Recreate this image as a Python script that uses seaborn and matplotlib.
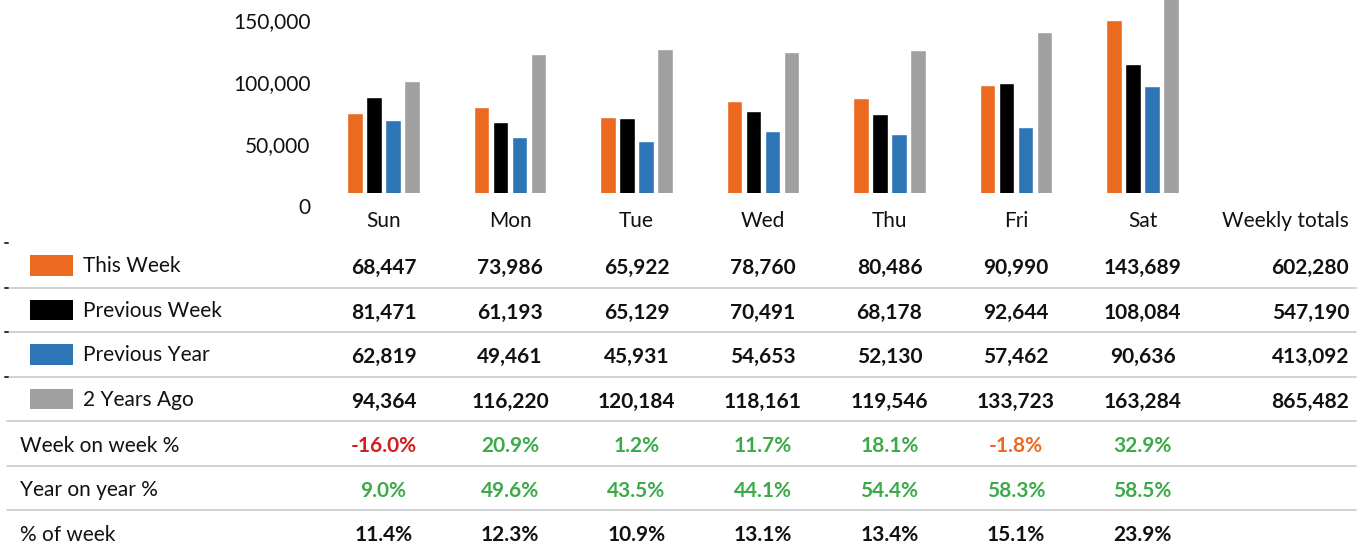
import numpy as np
import pandas as pd
import matplotlib
matplotlib.use("Agg")
import matplotlib.pyplot as plt
from matplotlib.patches import Rectangle
from matplotlib.transforms import blended_transform_factory
import seaborn as sns

# ---------------- data ----------------
days = ["Sun", "Mon", "Tue", "Wed", "Thu", "Fri", "Sat"]
series = ["This Week", "Previous Week", "Previous Year", "2 Years Ago"]
this_week = [68447, 73986, 65922, 78760, 80486, 90990, 143689]
previous_week = [81471, 61193, 65129, 70491, 68178, 92644, 108084]
previous_year = [62819, 49461, 45931, 54653, 52130, 57462, 90636]
two_years_ago = [94364, 116220, 120184, 118161, 119546, 133723, 163284]
weekly_totals = [602280, 547190, 413092, 865482]
week_on_week = [-16.0, 20.9, 1.2, 11.7, 18.1, -1.8, 32.9]
year_on_year = [9.0, 49.6, 43.5, 44.1, 54.4, 58.3, 58.5]
pct_of_week = [11.4, 12.3, 10.9, 13.1, 13.4, 15.1, 23.9]
y_ticks = [0, 50000, 100000, 150000]
totals_label = "Weekly totals"
row_labels = ["Week on week %", "Year on year %", "% of week"]

series_colors = ["#EC6A1F", "#000000", "#2E75B6", "#A0A0A0"]
GREEN = "#3DAA4A"
RED = "#D01F1F"
ORANGE = "#EC6A1F"

# ---------------- style ----------------
sns.set_theme(style="white")
plt.rcParams["font.family"] = ["Lato", "DejaVu Sans"]
FS = 15

W, H = 1361, 551
fig = plt.figure(figsize=(W / 100, H / 100), dpi=100)
fig.patch.set_facecolor("white")

# ---------------- bar chart ----------------
PX_PER_UNIT = 0.00124          # vertical scale of bars
ZERO_PX = 198.3                # pixel row of value 0
AX_LEFT = 320
STEP = 126.5                   # px between day groups
SUN_PX = 383.5
ax = fig.add_axes([AX_LEFT / W, 1 - ZERO_PX / H, (W - AX_LEFT) / W, ZERO_PX / H])

df = pd.DataFrame({
    "day": np.tile(days, len(series)),
    "series": np.repeat(series, len(days)),
    "value": this_week + previous_week + previous_year + two_years_ago,
})
sns.barplot(data=df, x="day", y="value", hue="series", order=days,
            hue_order=series, palette=series_colors, width=0.6, gap=0.2,
            saturation=1, errorbar=None, legend=False, ax=ax, zorder=2)

ax.set_ylim(0, ZERO_PX / PX_PER_UNIT)
ax.set_xlim(-(SUN_PX - AX_LEFT) / STEP, (W - SUN_PX) / STEP)
# hide the lowest slice of the bars (baseline sits slightly above zero)
ax.axhspan(0, 5.6 / PX_PER_UNIT, color="white", zorder=3, lw=0)

totals_x = (1349 - SUN_PX) / STEP
ax.set_xticks(list(range(len(days))) + [totals_x])
ax.set_xticklabels(days + [totals_label], fontsize=FS, color="#111111")
ax.get_xticklabels()[-1].set_ha("right")
ax.set_yticks(y_ticks)
ax.set_yticklabels([f"{v:,}" for v in y_ticks], fontsize=FS, color="#111111")
for lbl in ax.get_yticklabels():
    lbl.set_va("top")
ax.tick_params(axis="x", length=0, pad=9.5)
ax.tick_params(axis="y", length=0, pad=7)
ax.set_xlabel("")
ax.set_ylabel("")
for s in ax.spines.values():
    s.set_visible(False)
ax.set_facecolor("none")

# ---------------- table ----------------
TOP_PX = 240
ROW0 = 265.5
ROWH = 44.5
axt = fig.add_axes([0, 0, 1, (H - TOP_PX) / H])
axt.set_xlim(-SUN_PX / STEP, (W - SUN_PX) / STEP)
axt.set_ylim((H - ROW0) / ROWH, -(ROW0 - TOP_PX) / ROWH)
axt.axis("off")
bt = blended_transform_factory(axt.transAxes, axt.transData)

for r in range(6):
    axt.axhline(r + 0.5, xmin=7 / W, xmax=1356 / W, color="#CFCFCF", lw=1.3)
for r in range(-1, 3):
    axt.axhline(r + 0.5, xmin=5 / W, xmax=8 / W, color="#333333", lw=1.4)

series_values = [this_week, previous_week, previous_year, two_years_ago]
for r, (name, col, vals, tot) in enumerate(zip(series, series_colors,
                                               series_values, weekly_totals)):
    axt.add_patch(Rectangle((30 / W, r - 0.225), 43 / W, 0.45, transform=bt,
                            facecolor=col, edgecolor="none"))
    axt.text(83 / W, r + 0.02, name, transform=bt, fontsize=FS,
             va="center", ha="left", color="#111111")
    for i, v in enumerate(vals):
        axt.text(i, r + 0.06, f"{v:,}", fontsize=FS, fontweight="bold",
                 ha="center", va="center", color="#111111")
    axt.text(totals_x, r + 0.06, f"{tot:,}", fontsize=FS, fontweight="bold",
             ha="right", va="center", color="#111111")


def wow_color(v):
    if v < -5:
        return RED
    if v < 0:
        return ORANGE
    return GREEN


extra = [
    (week_on_week, [wow_color(v) for v in week_on_week]),
    (year_on_year, [GREEN if v >= 0 else RED for v in year_on_year]),
    (pct_of_week, ["#111111"] * len(pct_of_week)),
]
for k, (label, (vals, cols)) in enumerate(zip(row_labels, extra)):
    r = 4 + k
    axt.text(20 / W, r + 0.05, label, transform=bt, fontsize=FS, va="center",
             ha="left", color="#111111")
    for i, (v, c) in enumerate(zip(vals, cols)):
        axt.text(i, r + 0.06, f"{v:.1f}%", fontsize=FS, fontweight="bold",
                 ha="center", va="center", color=c)

fig.savefig("out.png", dpi=100, facecolor="white")
